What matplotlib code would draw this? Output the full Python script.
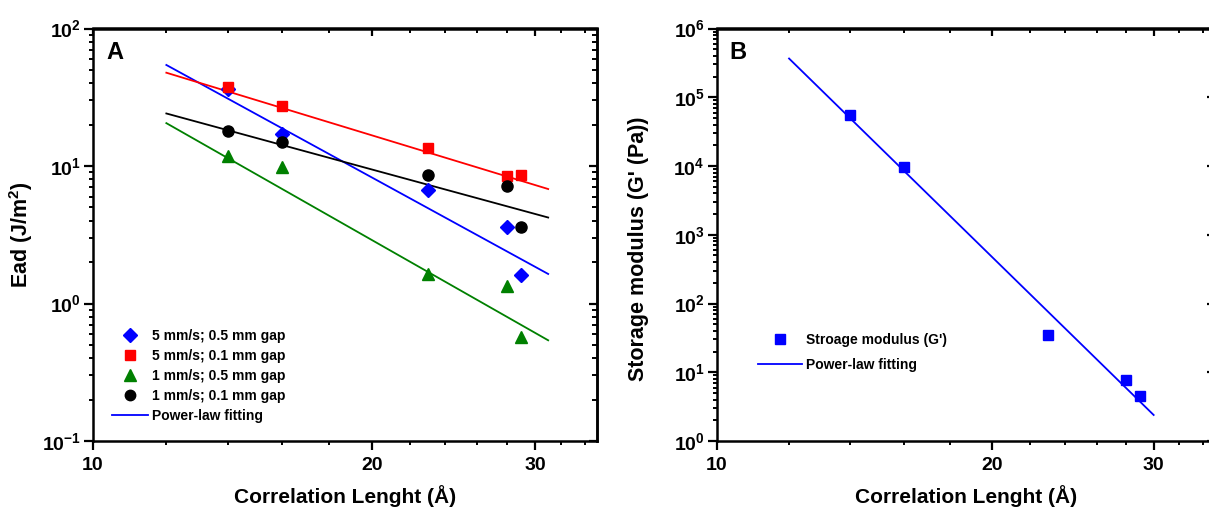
import matplotlib
matplotlib.use("Agg")
import matplotlib.pyplot as plt
from matplotlib.ticker import LogLocator, LogFormatterMathtext, NullFormatter, FixedLocator, FixedFormatter
from matplotlib.lines import Line2D

plt.rcParams['font.family'] = ['Liberation Sans', 'DejaVu Sans']
plt.rcParams['font.weight'] = 'bold'
plt.rcParams['mathtext.fontset'] = 'custom'
for k in ('rm', 'it', 'bf', 'sf'):
    plt.rcParams['mathtext.' + k] = 'Liberation Sans:bold'
plt.rcParams['mathtext.default'] = 'rm'
plt.rcParams['axes.unicode_minus'] = False

# ---------------- data ----------------
corr_len = [14, 16, 23, 28, 29]
ead_5_05 = [36.5, 17.1, 6.7, 3.6, 1.6]      # blue diamonds
ead_5_01 = [37.3, 27.3, 13.6, 8.5, 8.6]     # red squares
ead_1_05 = [11.8, 9.8, 1.64, 1.34, 0.57]    # green triangles
ead_1_01 = [17.9, 15.0, 8.55, 7.1, 3.6]     # black circles

fit_x_a = [12, 31]
fit_5_05 = [54.3, 1.64]
fit_5_01 = [47.7, 6.8]
fit_1_05 = [20.5, 0.54]
fit_1_01 = [24.1, 4.22]

gprime = [55500, 9700, 34.9, 7.74, 4.53]
fit_x_b = [12, 30]
fit_g = [366000, 2.39]

labels_a = ['5 mm/s; 0.5 mm gap', '5 mm/s; 0.1 mm gap', '1 mm/s; 0.5 mm gap',
            '1 mm/s; 0.1 mm gap', 'Power-law fitting']
labels_b = ["Stroage modulus (G')", 'Power-law fitting']
x_major = [10, 20, 30]
x_minor = [12, 14, 16, 18, 22, 24, 26, 28, 32, 34]

W, H = 1209, 512
fig = plt.figure(figsize=(W / 100, H / 100), dpi=100)

def px_axes(l, r, t, b):
    return fig.add_axes([l / W, 1 - b / H, (r - l) / W, (b - t) / H])

def style(ax, ylo, yhi):
    ax.set_xscale('log')
    ax.set_yscale('log')
    ax.set_xlim(10, 35)
    ax.set_ylim(ylo, yhi)
    ax.xaxis.set_major_locator(FixedLocator(x_major))
    ax.xaxis.set_major_formatter(FixedFormatter([str(v) for v in x_major]))
    ax.xaxis.set_minor_locator(FixedLocator(x_minor))
    ax.xaxis.set_minor_formatter(NullFormatter())
    ax.yaxis.set_major_locator(LogLocator(base=10, numticks=20))
    ax.yaxis.set_major_formatter(LogFormatterMathtext())
    ax.yaxis.set_minor_locator(LogLocator(base=10, subs=range(2, 10), numticks=20))
    ax.yaxis.set_minor_formatter(NullFormatter())
    for s in ax.spines.values():
        s.set_linewidth(1.8)
    ax.tick_params(which='major', direction='out', length=6.5, width=1.6, labelsize=14, pad=2)
    ax.tick_params(which='minor', direction='out', length=3.2, width=1.4)
    for lab in ax.get_xticklabels() + ax.get_yticklabels():
        lab.set_fontweight('bold')
    ax.tick_params(axis='x', pad=5)
    # mirrored ticks pointing inward
    sx = ax.secondary_xaxis('top', functions=(lambda v: v, lambda v: v))
    sx.xaxis.set_major_locator(FixedLocator(x_major))
    sx.xaxis.set_minor_locator(FixedLocator(x_minor))
    sx.xaxis.set_major_formatter(NullFormatter())
    sx.xaxis.set_minor_formatter(NullFormatter())
    sx.tick_params(which='major', direction='in', length=6, width=1.6)
    sx.tick_params(which='minor', direction='in', length=3.5, width=1.4)
    sx.spines['top'].set_linewidth(1.8)
    sy = ax.secondary_yaxis('right', functions=(lambda v: v, lambda v: v))
    sy.yaxis.set_major_locator(LogLocator(base=10, numticks=20))
    sy.yaxis.set_minor_locator(LogLocator(base=10, subs=range(2, 10), numticks=20))
    sy.yaxis.set_major_formatter(NullFormatter())
    sy.yaxis.set_minor_formatter(NullFormatter())
    sy.tick_params(which='major', direction='in', length=6, width=1.6)
    sy.tick_params(which='minor', direction='in', length=3.5, width=1.4)
    sy.spines['right'].set_linewidth(1.8)

# ---------------- panel A ----------------
axA = px_axes(93, 597, 28.5, 441)
style(axA, 0.1, 100)
axA.plot(fit_x_a, fit_5_05, color='#0000ff', lw=1.3)
axA.plot(fit_x_a, fit_5_01, color='#ff0000', lw=1.3)
axA.plot(fit_x_a, fit_1_05, color='#008000', lw=1.3)
axA.plot(fit_x_a, fit_1_01, color='#000000', lw=1.3)
axA.plot(corr_len, ead_5_05, linestyle='none', marker='D', ms=7.5, color='#0000ff', mec='#0000ff')
axA.plot(corr_len, ead_5_01, linestyle='none', marker='s', ms=7.5, color='#ff0000', mec='#ff0000')
axA.plot(corr_len, ead_1_05, linestyle='none', marker='^', ms=9, color='#008000', mec='#008000')
axA.plot(corr_len, ead_1_01, linestyle='none', marker='o', ms=8, color='#000000', mec='#000000')
axA.set_xlabel('Correlation Lenght (Å)', fontsize=15, fontweight='bold', labelpad=8)
axA.set_ylabel('Ead (J/m$^2$)', fontsize=15.5, fontweight='bold')
axA.yaxis.set_label_coords(-0.115, 0.5)
axA.text(0.026, 0.97, 'A', transform=axA.transAxes, fontsize=17, fontweight='bold',
         va='top', ha='left')
handlesA = [
    Line2D([], [], linestyle='none', marker='D', ms=7, color='#0000ff'),
    Line2D([], [], linestyle='none', marker='s', ms=7, color='#ff0000'),
    Line2D([], [], linestyle='none', marker='^', ms=8.5, color='#008000'),
    Line2D([], [], linestyle='none', marker='o', ms=7.5, color='#000000'),
    Line2D([], [], color='#0000ff', lw=1.3),
]
axA.legend(handlesA, labels_a, loc='upper left', bbox_to_anchor=(0.037, 0.272),
           frameon=False, borderpad=0, borderaxespad=0, handlelength=2.6,
           handletextpad=0.3, labelspacing=0.44, prop={'size': 10, 'weight': 'bold'})

# ---------------- panel B ----------------
axB = px_axes(716.5, 1215, 28.5, 441)
style(axB, 1, 1e6)
axB.plot(fit_x_b, fit_g, color='#0000ff', lw=1.3)
axB.plot(corr_len, gprime, linestyle='none', marker='s', ms=7.5, color='#0000ff')
axB.set_xlabel('Correlation Lenght (Å)', fontsize=15, fontweight='bold', labelpad=8)
axB.set_ylabel("Storage modulus (G' (Pa))", fontsize=15.5, fontweight='bold')
axB.yaxis.set_label_coords(-0.135, 0.467)
axB.text(0.026, 0.97, 'B', transform=axB.transAxes, fontsize=17, fontweight='bold',
         va='top', ha='left')
handlesB = [
    Line2D([], [], linestyle='none', marker='s', ms=7, color='#0000ff'),
    Line2D([], [], color='#0000ff', lw=1.3),
]
axB.legend(handlesB, labels_b, loc='upper left', bbox_to_anchor=(0.083, 0.263),
           frameon=False, borderpad=0, borderaxespad=0, handlelength=3.2,
           handletextpad=0.3, labelspacing=0.85, prop={'size': 10, 'weight': 'bold'})

fig.savefig('out.png', dpi=100)
